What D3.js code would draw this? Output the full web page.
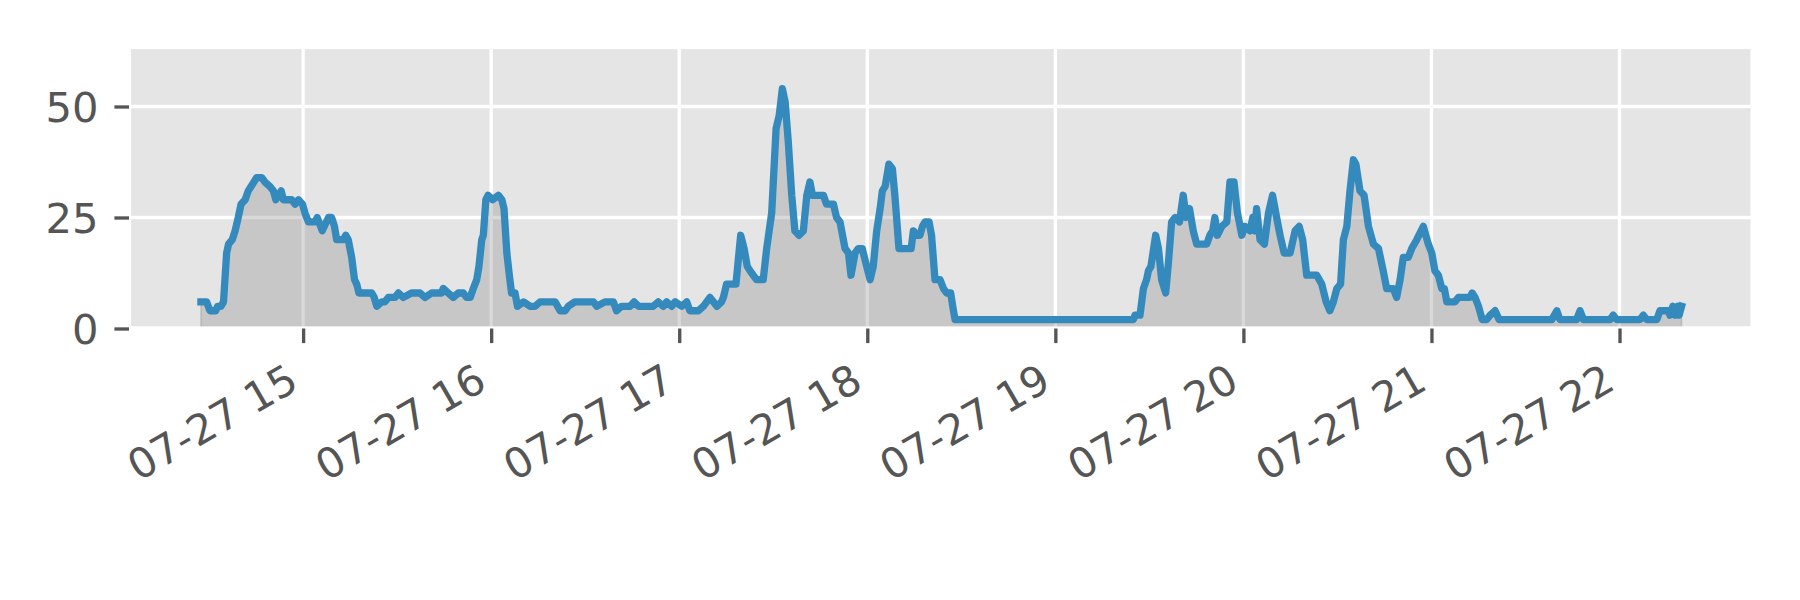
<!DOCTYPE html>
<html>
<head>
<meta charset="utf-8">
<script src="https://cdn.jsdelivr.net/npm/d3@7"></script>
<style>
  html, body { margin: 0; padding: 0; background: #ffffff; }
  svg { display: block; }
</style>
</head>
<body>
<svg id="chart" width="1800" height="600"></svg>
<script>
// minutes after 07-27 14:00
const minutes = [27.4,29.2,30.3,32.1,32.7,33.8,34.6,35.6,36.2,37.4,38.3,39.3,40.2,41.5,42.5,43.4,45.2,46.8,47.8,49.4,50.5,51.3,53.0,53.7,56.4,57.4,58.5,59.8,60.6,61.7,63.8,64.5,66.1,68.1,69.1,70.0,70.7,72.8,73.6,74.4,75.5,76.4,77.1,77.8,81.9,82.7,83.5,85.1,86.1,87.2,89.3,90.4,92.0,94.6,97.3,98.9,101.0,104.2,104.7,106.3,107.9,109.5,111.1,112.2,113.3,114.3,115.4,116.1,117.0,117.5,118.3,119.0,120.5,122.3,123.4,124.1,125.0,125.8,126.5,127.6,128.4,130.3,132.4,134.0,135.6,138.2,140.4,142.0,143.6,144.6,146.7,148.9,152.6,153.7,156.3,159.0,160.0,161.6,164.3,165.6,167.0,171.7,173.3,174.9,176.0,177.6,178.7,180.8,182.4,183.4,186.1,187.7,189.8,190.9,192.0,193.5,194.1,195.1,198.1,199.6,200.7,201.7,202.6,203.6,204.7,206.8,207.9,209.5,210.9,211.9,212.9,213.8,214.8,215.9,216.9,218.2,219.6,220.7,221.7,222.5,226.0,227.0,229.2,230.2,231.3,232.9,234.0,234.8,236.1,237.1,238.4,239.8,240.9,241.9,243.0,244.1,244.8,245.7,246.9,248.0,248.8,250.1,252.6,254.0,254.7,255.8,256.8,257.6,258.4,259.7,260.5,261.6,263.2,264.3,265.3,266.6,267.5,268.0,324.9,325.4,327.0,328.1,329.1,329.7,330.5,332.0,332.9,333.9,335.2,336.1,337.1,338.2,339.6,340.8,341.7,342.8,344.0,345.1,348.3,349.3,350.2,350.9,351.7,353.1,354.7,355.7,357.0,358.1,359.5,360.5,362.1,363.0,363.7,364.2,365.3,366.7,368.0,369.3,370.6,371.7,373.0,374.9,376.5,377.8,378.9,380.2,383.4,385.0,386.4,387.6,388.7,389.8,391.0,391.9,393.0,394.0,395.1,395.9,397.2,398.5,399.9,401.5,403.1,404.6,405.7,407.8,408.9,410.0,411.0,412.6,413.7,415.3,417.4,419.0,420.1,421.1,422.2,423.3,424.1,424.9,427.5,428.6,432.3,433.0,433.9,435.0,436.2,437.6,438.7,440.3,441.6,458.4,460.0,461.0,466.3,467.4,468.5,477.0,478.0,479.1,486.5,487.6,488.7,491.9,492.9,495.6,496.1,497.0,497.7,498.6,499.0,499.8];
const values = [6,6,4,4,5,5,6,17,19,20,22,25,28,29,31,32,34,34,33,32,31,29,31,29,29,28,29,28,26,24,24,25,22,25,25,23,20,20,21,20,16,11,10,8,8,7,5,6,6,7,7,8,7,8,8,7,8,8,9,8,7,8,8,7,7,9,11,14,20,21,29,30,29,30,29,27,17,12,8,8,5,6,5,5,6,6,6,4,4,5,6,6,6,5,6,6,4,5,5,6,5,5,6,5,6,5,6,5,6,4,4,5,7,6,5,6,7,10,10,21,18,14,13,12,11,11,18,26,45,48,54,51,42,30,22,21,22,30,33,30,30,28,28,25,24,18,17,12,17,18,18,14,11,14,22,27,31,32,37,36,30,18,18,18,22,21,21,23,24,24,21,11,11,9,8,8,4,2,2,3,3,9,11,13,14,21,18,11,8,15,24,25,24,30,25,27,22,19,19,21,22,25,21,23,24,33,33,26,21,23,22,25,22,27,20,19,26,30,25,21,17,17,22,23,20,12,12,10,6,4,6,9,10,20,23,31,38,37,31,30,23,19,18,13,9,9,7,11,16,16,18,20,23,19,17,13,12,9,9,6,6,7,7,8,7,5,2,2,3,4,2,2,4,2,2,4,2,2,3,2,2,3,2,2,4,4,3,5,3,5,3,5];

const tickHours = [15,16,17,18,19,20,21,22];
const tickLabels = ["07-27 15","07-27 16","07-27 17","07-27 18","07-27 19","07-27 20","07-27 21","07-27 22"];
const yTicks = [0,25,50];
const yTickLabels = ["0","25","50"];

const base = new Date(2020, 6, 27, 14, 0, 0);
const toDate = m => new Date(base.getTime() + m * 60000);
const data = minutes.map((m, i) => ({ t: toDate(m), v: values[i] }));

const svg = d3.select("#chart");
const L = 129, R = 1752.6, T = 47, B = 328.5;
const FONT = "'DejaVu Sans', sans-serif";
const FS = 41.67;
const TEXT = "#555555";

const x = d3.scaleTime().domain([toDate(4.45), toDate(522.46)]).range([L, R]);
const y = d3.scaleLinear().domain([0, 63.4]).range([B, T]);

// background
svg.append("rect").attr("x", L).attr("y", T).attr("width", R - L).attr("height", B - T).attr("fill", "#E5E5E5");

// grid
const tickDates = tickHours.map(h => new Date(2020, 6, 27, h, 0, 0));
svg.append("g").selectAll("line").data(tickDates).join("line")
  .attr("x1", d => x(d)).attr("x2", d => x(d)).attr("y1", T).attr("y2", B)
  .attr("stroke", "#ffffff").attr("stroke-width", 3.33);
svg.append("g").selectAll("line").data(yTicks).join("line")
  .attr("x1", L).attr("x2", R).attr("y1", d => y(d)).attr("y2", d => y(d))
  .attr("stroke", "#ffffff").attr("stroke-width", 3.33);

// fill
const area = d3.area().x(d => x(d.t)).y0(y(0)).y1(d => y(d.v));
svg.append("path").datum(data).attr("d", area)
  .attr("fill", "#808080").attr("fill-opacity", 0.3)
  .attr("stroke", "#808080").attr("stroke-opacity", 0.3).attr("stroke-width", 1.5);

// line
const line = d3.line().x(d => x(d.t)).y(d => y(d.v));
svg.append("path").datum(data).attr("d", line)
  .attr("fill", "none").attr("stroke", "#348ABD").attr("stroke-width", 7.3)
  .attr("stroke-linejoin", "round").attr("stroke-linecap", "square");

// spines (white)
svg.append("rect").attr("x", L).attr("y", T).attr("width", R - L).attr("height", B - T)
  .attr("fill", "none").attr("stroke", "#ffffff").attr("stroke-width", 4.17);

// x axis
const xAxis = d3.axisBottom(x).tickValues(tickDates)
  .tickFormat((d, i) => tickLabels[i]).tickSizeInner(14.6).tickSizeOuter(0);
const gx = svg.append("g").attr("transform", `translate(0,${B})`).call(xAxis);
gx.select(".domain").remove();
gx.selectAll(".tick line").attr("stroke", TEXT).attr("stroke-width", 3.33);
gx.selectAll(".tick text")
  .attr("font-family", FONT).attr("font-size", FS).attr("fill", TEXT)
  .attr("text-anchor", "end").attr("x", 0).attr("y", 0).attr("dy", null)
  .attr("transform", `translate(-3, ${388 - B}) rotate(-30)`);

// y axis
const yAxis = d3.axisLeft(y).tickValues(yTicks)
  .tickFormat((d, i) => yTickLabels[i]).tickSizeInner(14.6).tickSizeOuter(0).tickPadding(16);
const gy = svg.append("g").attr("transform", `translate(${L},0)`).call(yAxis);
gy.select(".domain").remove();
gy.selectAll(".tick line").attr("stroke", TEXT).attr("stroke-width", 3.33);
gy.selectAll(".tick text")
  .attr("font-family", FONT).attr("font-size", FS).attr("fill", TEXT)
  .attr("dy", "0.37em");
</script>
</body>
</html>
